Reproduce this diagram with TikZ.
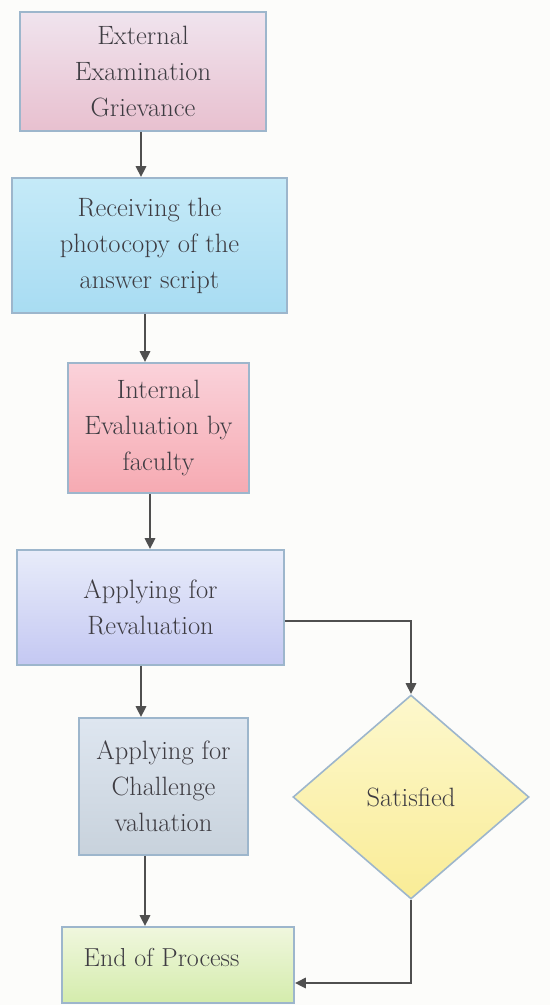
\documentclass[tikz,border=0pt]{standalone}
\usetikzlibrary{shapes.geometric,arrows.meta}
\definecolor{txt}{HTML}{3E3C42}
\definecolor{edge}{HTML}{9DB6CC}
\definecolor{conn}{HTML}{4F4F4F}
\definecolor{bg}{RGB}{252,252,250}
\tikzset{
  x=1pt, y=-1pt,
  box/.style={draw=edge, line width=1.6pt, rectangle, inner sep=2pt, align=center,
    text=txt, font=\fontsize{26.5}{36}\selectfont},
  flow/.style={draw=conn, line width=2.8pt, -{Triangle[length=11pt,width=10pt]}},
  plain/.style={draw=conn, line width=2.8pt}
}
\begin{document}
\begin{tikzpicture}
\useasboundingbox (0,0) rectangle (550,1005);
\fill[bg] (0,0) rectangle (550,1005);

\node[box, minimum width=246pt, minimum height=119pt,
  top color={rgb,255:red,240;green,228;blue,238}, bottom color={rgb,255:red,232;green,192;blue,207}]
  (b1) at (143,71.5) {External\\Examination\\Grievance};

\node[box, minimum width=275pt, minimum height=135pt,
  top color={rgb,255:red,197;green,234;blue,248}, bottom color={rgb,255:red,168;green,220;blue,242}]
  (b2) at (149.5,245.5) {Receiving the\\photocopy of the\\answer script};

\node[box, minimum width=181pt, minimum height=130pt,
  top color={rgb,255:red,250;green,210;blue,218}, bottom color={rgb,255:red,246;green,170;blue,178}]
  (b3) at (158.5,428) {Internal\\Evaluation by\\faculty};

\node[box, minimum width=267pt, minimum height=115pt,
  top color={rgb,255:red,232;green,236;blue,250}, bottom color={rgb,255:red,196;green,200;blue,242}]
  (b4) at (150.5,607.5) {Applying for\\Revaluation};

\node[box, minimum width=169pt, minimum height=137pt,
  top color={rgb,255:red,222;green,230;blue,240}, bottom color={rgb,255:red,200;green,210;blue,220}]
  (b5) at (163.5,786.5) {Applying for\\Challenge\\valuation};

\node[box, diamond, inner sep=0pt, minimum width=236pt, minimum height=204pt,
  top color={rgb,255:red,253;green,248;blue,205}, bottom color={rgb,255:red,249;green,236;blue,150}]
  (d) at (411,797) {Satisfied};

\node[box, minimum width=232pt, minimum height=76pt,
  top color={rgb,255:red,240;green,247;blue,222}, bottom color={rgb,255:red,212;green,236;blue,172},
  label={[anchor=west, text=txt, font=\fontsize{26}{35}\selectfont, xshift=19pt, yshift=8pt]west:End of Process}]
  (b6) at (178,965) {};

\draw[flow] ([xshift=-2pt]b1.south) -- ([xshift=-2pt]b1.south |- b2.north);
\draw[flow] ([xshift=-4.5pt]b2.south) -- ([xshift=-4.5pt]b2.south |- b3.north);
\draw[flow] ([xshift=-8.5pt]b3.south) -- ([xshift=-8.5pt]b3.south |- b4.north);
\draw[flow] ([xshift=-9.5pt]b4.south) -- ([xshift=-9.5pt]b4.south |- b5.north);
\draw[flow] ([xshift=-18.5pt]b5.south) -- ([xshift=-18.5pt]b5.south |- b6.north);
\draw[flow] ([yshift=-13.5pt]b4.east) -| (d.north);
\draw[flow] (d.south) |- ([yshift=-18pt]b6.east);
\end{tikzpicture}
\end{document}
